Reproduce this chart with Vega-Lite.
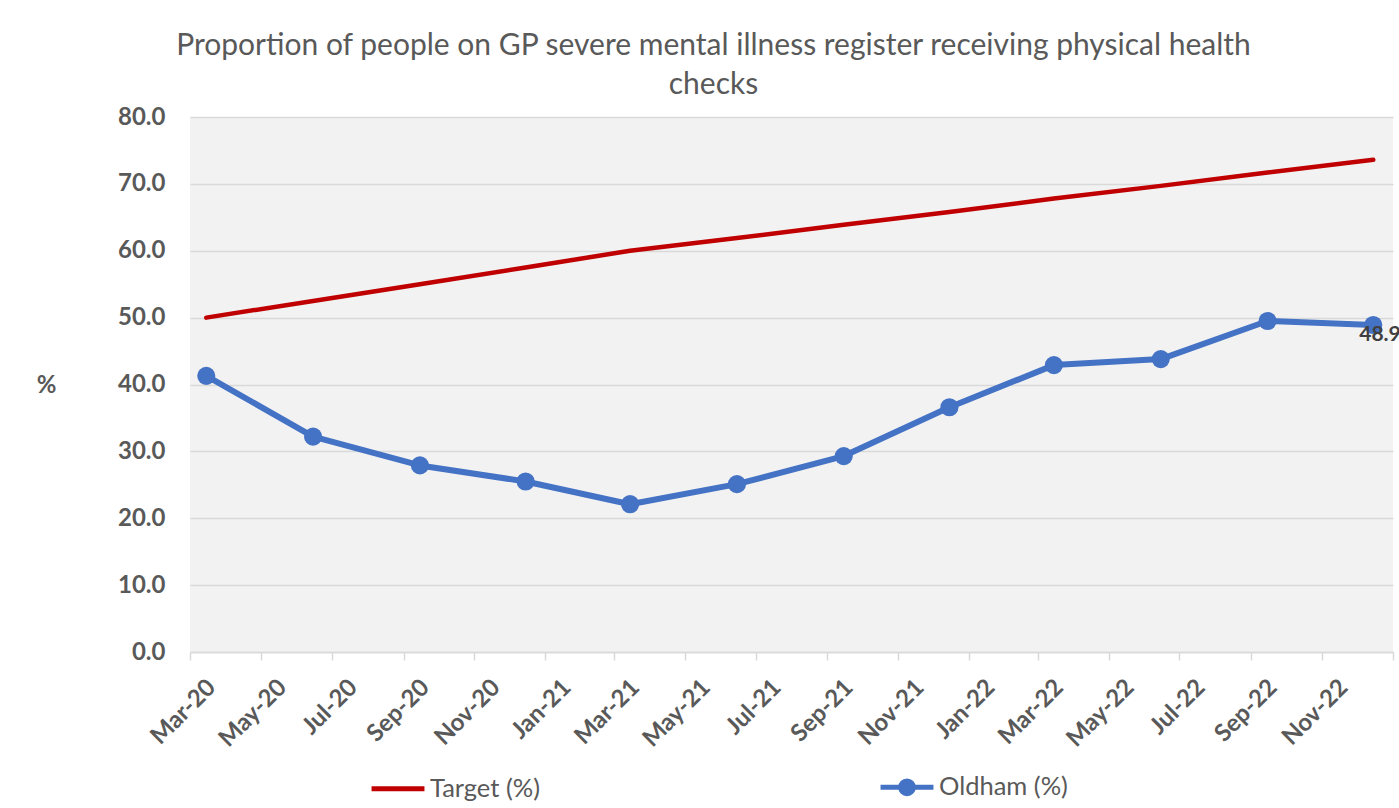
{
  "$schema": "https://vega.github.io/schema/vega-lite/v6.json",
  "width": 1203,
  "height": 535,
  "autosize": {"type": "none"},
  "padding": {"left": 190, "top": 117, "right": 6, "bottom": 156},
  "background": "white",
  "title": {
    "text": ["Proportion of people on GP severe mental illness register receiving physical health", "checks"],
    "font": "Lato",
    "fontSize": 30,
    "fontWeight": "normal",
    "color": "#595959",
    "anchor": "middle",
    "frame": "group",
    "dx": -78,
    "offset": 5,
    "lineHeight": 39
  },
  "config": {
    "view": {"fill": "#f2f2f2", "stroke": null},
    "font": "Lato"
  },
  "datasets": {
    "main": [
      {"date": "2020-03-15", "series": "Target (%)", "value": 50.0},
      {"date": "2020-06-15", "series": "Target (%)", "value": 52.5},
      {"date": "2020-09-15", "series": "Target (%)", "value": 55.0},
      {"date": "2020-12-15", "series": "Target (%)", "value": 57.5},
      {"date": "2021-03-15", "series": "Target (%)", "value": 60.0},
      {"date": "2021-06-15", "series": "Target (%)", "value": 61.9},
      {"date": "2021-09-15", "series": "Target (%)", "value": 63.9},
      {"date": "2021-12-15", "series": "Target (%)", "value": 65.8},
      {"date": "2022-03-15", "series": "Target (%)", "value": 67.8},
      {"date": "2022-06-15", "series": "Target (%)", "value": 69.7},
      {"date": "2022-09-15", "series": "Target (%)", "value": 71.7},
      {"date": "2022-12-15", "series": "Target (%)", "value": 73.6},
      {"date": "2020-03-15", "series": "Oldham (%)", "value": 41.3},
      {"date": "2020-06-15", "series": "Oldham (%)", "value": 32.2},
      {"date": "2020-09-15", "series": "Oldham (%)", "value": 27.9},
      {"date": "2020-12-15", "series": "Oldham (%)", "value": 25.5},
      {"date": "2021-03-15", "series": "Oldham (%)", "value": 22.1},
      {"date": "2021-06-15", "series": "Oldham (%)", "value": 25.1},
      {"date": "2021-09-15", "series": "Oldham (%)", "value": 29.3},
      {"date": "2021-12-15", "series": "Oldham (%)", "value": 36.6},
      {"date": "2022-03-15", "series": "Oldham (%)", "value": 42.9},
      {"date": "2022-06-15", "series": "Oldham (%)", "value": 43.8},
      {"date": "2022-09-15", "series": "Oldham (%)", "value": 49.5},
      {"date": "2022-12-15", "series": "Oldham (%)", "value": 48.9}
    ]
  },
  "data": {"name": "main"},
  "encoding": {
    "x": {
      "field": "date",
      "type": "temporal",
      "scale": {
        "type": "utc",
        "domain": [
          {"year": 2020, "month": 3, "date": 1, "utc": true},
          {"year": 2023, "month": 1, "date": 1, "utc": true}
        ]
      },
      "axis": {
        "title": null,
        "values": [
          {"year": 2020, "month": 3, "date": 1, "utc": true},
          {"year": 2020, "month": 5, "date": 1, "utc": true},
          {"year": 2020, "month": 7, "date": 1, "utc": true},
          {"year": 2020, "month": 9, "date": 1, "utc": true},
          {"year": 2020, "month": 11, "date": 1, "utc": true},
          {"year": 2021, "month": 1, "date": 1, "utc": true},
          {"year": 2021, "month": 3, "date": 1, "utc": true},
          {"year": 2021, "month": 5, "date": 1, "utc": true},
          {"year": 2021, "month": 7, "date": 1, "utc": true},
          {"year": 2021, "month": 9, "date": 1, "utc": true},
          {"year": 2021, "month": 11, "date": 1, "utc": true},
          {"year": 2022, "month": 1, "date": 1, "utc": true},
          {"year": 2022, "month": 3, "date": 1, "utc": true},
          {"year": 2022, "month": 5, "date": 1, "utc": true},
          {"year": 2022, "month": 7, "date": 1, "utc": true},
          {"year": 2022, "month": 9, "date": 1, "utc": true},
          {"year": 2022, "month": 11, "date": 1, "utc": true},
          {"year": 2023, "month": 1, "date": 1, "utc": true}
        ],
        "labelExpr": "datum.value >= 1672531200000 ? '' : utcFormat(datum.value, '%b-%y')",
        "labelAngle": -45,
        "labelFont": "Lato",
        "labelFontSize": 24,
        "labelFontWeight": "bold",
        "labelColor": "#595959",
        "labelPadding": 15,
        "labelOffset": 13,
        "labelOverlap": false,
        "labelBound": false,
        "labelFlush": false,
        "grid": false,
        "domainColor": "#d9d9d9",
        "domainWidth": 1.5,
        "tickColor": "#d9d9d9",
        "tickWidth": 1.5,
        "tickSize": 8
      }
    },
    "y": {
      "field": "value",
      "type": "quantitative",
      "scale": {"domain": [0, 80], "nice": false, "zero": true},
      "axis": {
        "title": "%",
        "titleAngle": 0,
        "titleX": -144,
        "titleY": 268,
        "titleAlign": "center",
        "titleBaseline": "middle",
        "titleFont": "Lato",
        "titleFontSize": 24,
        "titleFontWeight": "bold",
        "titleColor": "#595959",
        "values": [0, 10, 20, 30, 40, 50, 60, 70, 80],
        "format": ".1f",
        "labelFont": "Lato",
        "labelFontSize": 24,
        "labelFontWeight": "bold",
        "labelColor": "#595959",
        "labelPadding": 25,
        "ticks": false,
        "domain": false,
        "grid": true,
        "gridColor": "#d9d9d9",
        "gridWidth": 1.5
      }
    }
  },
  "layer": [
    {
      "transform": [{"filter": "datum.series === 'Target (%)'"}],
      "mark": {"type": "line", "strokeWidth": 4.5, "strokeCap": "round", "strokeJoin": "round"},
      "encoding": {
        "color": {
          "field": "series",
          "type": "nominal",
          "scale": {"domain": ["Target (%)", "Oldham (%)"], "range": ["#C00000", "#4472C4"]},
          "legend": {
            "title": null,
            "orient": "none",
            "direction": "horizontal",
            "legendX": 179,
            "legendY": 641,
            "columnPadding": 330,
            "symbolType": "stroke",
            "symbolSize": 2800,
            "symbolStrokeWidth": 5,
            "labelFont": "Lato",
            "labelFontSize": 25.5,
            "labelColor": "#595959",
            "labelOffset": 3,
            "encode": {
              "symbols": {
                "update": {
                  "shape": [
                    {"test": "datum.value === 'Oldham (%)'", "value": "M-1,0L1,0M0.24,0A0.24,0.24,0,1,1,-0.24,0A0.24,0.24,0,1,1,0.24,0"},
                    {"value": "stroke"}
                  ],
                  "fill": [
                    {"test": "datum.value === 'Oldham (%)'", "value": "#4472C4"},
                    {"value": "transparent"}
                  ]
                }
              }
            }
          }
        }
      }
    },
    {
      "transform": [{"filter": "datum.series === 'Oldham (%)'"}],
      "mark": {"type": "line", "strokeWidth": 6, "strokeCap": "round", "strokeJoin": "round"},
      "encoding": {
        "color": {"field": "series", "type": "nominal"}
      }
    },
    {
      "transform": [{"filter": "datum.series === 'Oldham (%)'"}],
      "mark": {"type": "point", "filled": true, "size": 330, "opacity": 1, "color": "#4472C4", "shape": "circle"}
    },
    {
      "transform": [{"filter": "datum.series === 'Oldham (%)' && datum.value === 48.9"}],
      "mark": {"type": "text", "align": "left", "baseline": "middle", "dx": -14, "dy": 10, "font": "Lato", "fontSize": 21, "fontWeight": "bold", "color": "#404040"},
      "encoding": {
        "text": {"field": "value", "type": "quantitative", "format": ".1f"}
      }
    }
  ]
}
